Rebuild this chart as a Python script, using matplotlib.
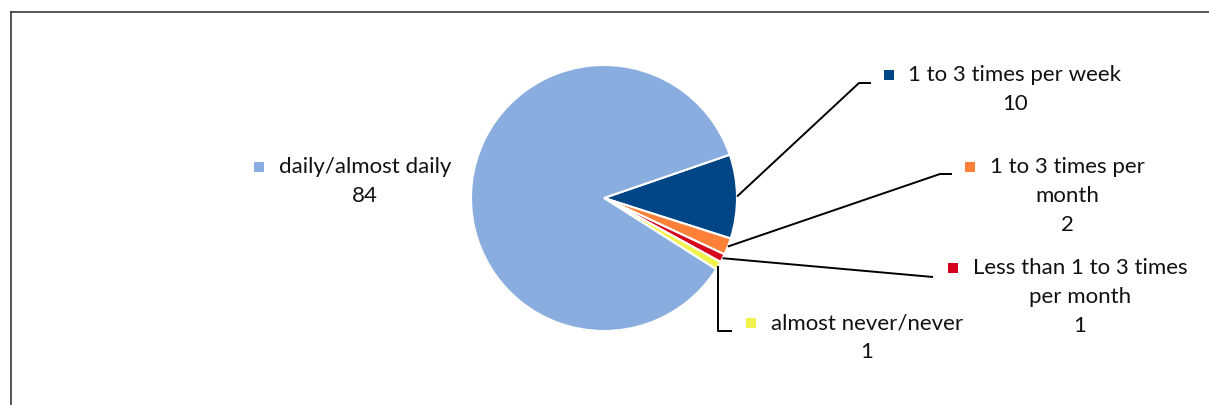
import numpy as np
import matplotlib.pyplot as plt
from matplotlib.lines import Line2D

# Frequency of use (%)
categories = ['1 to 3 times per week', '1 to 3 times per month',
              'Less than 1 to 3 times per month', 'almost never/never',
              'daily/almost daily']
label_lines = [['1 to 3 times per week'],
               ['1 to 3 times per', 'month'],
               ['Less than 1 to 3 times', 'per month'],
               ['almost never/never'],
               ['daily/almost daily']]
values = [10, 2, 1, 1, 84]
colors = ['#004586', '#FF8139', '#D7001C', '#F2F24C', '#8AADE0']

W, H = 1209, 405
fig = plt.figure(figsize=(W / 100, H / 100), dpi=100)
ax = fig.add_axes([0, 0, 1, 1])

cx, cy, r = 604, H - 198, 133
wedges, _ = ax.pie(values, colors=colors, startangle=19, counterclock=False,
                   center=(cx, cy), radius=r,
                   wedgeprops=dict(edgecolor='white', linewidth=1.5))
ax.set_xlim(0, W)
ax.set_ylim(0, H)
ax.axis('off')

# label layout (pixel coords, y from top): center x, first line y
label_pos = [(1015, 75), (1067, 167), (1080, 268), (867, 323), (365, 167)]
# leader line elbows (None = no leader)
elbows = [[(859, 83), (871, 83)],
          [(940, 174), (952, 174)],
          [(933, 277)],
          ['v', (732, 331)],
          None]

font = ['Lato', 'DejaVu Sans']
fs = 16
step = 29

fig.canvas.draw()
renderer = fig.canvas.get_renderer()

for i, (w, lines, val) in enumerate(zip(wedges, label_lines, values)):
    x0, y0 = label_pos[i]
    texts = lines + [str(val)]
    first = None
    for k, t in enumerate(texts):
        tx = ax.text(x0, H - (y0 + k * step), t, ha='center', va='center',
                     fontsize=fs, family=font, color='#111111')
        if k == 0:
            first = tx
    bb = first.get_window_extent(renderer)
    ax.plot(bb.x0 - 20, H - y0, marker='s', markersize=7.5, color=colors[i],
            markeredgewidth=0)

    if elbows[i] is not None:
        mid = np.deg2rad((w.theta1 + w.theta2) / 2)
        sx, sy = cx + r * np.cos(mid), cy + r * np.sin(mid)
        xs, ys = [sx], [sy]
        for p in elbows[i]:
            if p == 'v':
                xs.append(sx)
                ys.append(H - elbows[i][1][1])
            else:
                xs.append(p[0])
                ys.append(H - p[1])
        ax.plot(xs, ys, color='black', linewidth=1.4, solid_capstyle='butt')

# chart frame (top and left edges)
fig.add_artist(Line2D([10.5 / W, 1], [(H - 12) / H, (H - 12) / H],
                      transform=fig.transFigure, color='#3a3a3a', linewidth=1.2))
fig.add_artist(Line2D([10.5 / W, 10.5 / W], [0, (H - 12) / H],
                      transform=fig.transFigure, color='#3a3a3a', linewidth=1.2))

fig.savefig('out.png', dpi=100)
